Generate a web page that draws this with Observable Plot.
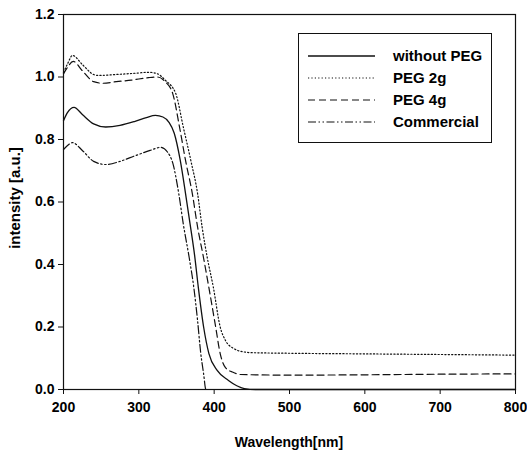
<!DOCTYPE html>
<html>
<head>
<meta charset="utf-8">
<script src="https://cdn.jsdelivr.net/npm/d3@7"></script>
<script src="https://cdn.jsdelivr.net/npm/@observablehq/plot@0.6"></script>
<style>
  html, body { margin: 0; padding: 0; background: #fff; }
  #chart { width: 527px; height: 455px; }
</style>
</head>
<body>
<div id="chart"></div>
<script>
// ---- data ----
const seriesNames = ["without PEG", "PEG 2g", "PEG 4g", "Commercial"];

const wlWithout = [200, 205, 214, 225, 240, 256, 275, 295, 310, 322, 332, 340, 347, 355, 362, 368, 374, 379, 386, 393, 404, 419, 430, 440, 455, 500, 600, 700, 800];
const valWithout = [0.86, 0.885, 0.903, 0.88, 0.85, 0.84, 0.845, 0.858, 0.87, 0.877, 0.872, 0.855, 0.82, 0.733, 0.627, 0.53, 0.43, 0.326, 0.2, 0.115, 0.061, 0.029, 0.012, 0.003, 0, 0, 0, 0, 0];

const wl2g = [200, 205, 212, 225, 240, 246, 270, 295, 313, 325, 335, 349, 359, 369, 378, 384, 391, 399, 408, 415, 426, 440, 448, 500, 600, 700, 800];
const val2g = [1.015, 1.04, 1.069, 1.04, 1.008, 1.005, 1.008, 1.012, 1.015, 1.01, 0.99, 0.947, 0.84, 0.733, 0.627, 0.52, 0.42, 0.326, 0.2, 0.157, 0.131, 0.12, 0.118, 0.116, 0.114, 0.112, 0.11];

const wl4g = [200, 205, 213, 225, 240, 252, 270, 290, 313, 325, 335, 345, 354, 362, 371, 378, 386, 393, 402, 408, 415, 425, 435, 500, 600, 700, 800];
const val4g = [1.01, 1.03, 1.05, 1.02, 0.985, 0.98, 0.985, 0.99, 0.998, 1.0, 0.985, 0.947, 0.84, 0.733, 0.627, 0.52, 0.42, 0.326, 0.2, 0.115, 0.07, 0.055, 0.048, 0.046, 0.047, 0.049, 0.05];

const wlComm = [200, 205, 212, 225, 240, 256, 275, 295, 315, 329, 338, 345, 353, 359, 367, 373, 378, 382, 386, 389, 400, 500, 600, 700, 800];
const valComm = [0.768, 0.78, 0.79, 0.765, 0.73, 0.72, 0.73, 0.748, 0.765, 0.775, 0.76, 0.725, 0.627, 0.53, 0.42, 0.326, 0.22, 0.12, 0.05, 0, 0, 0, 0, 0, 0];

const xTicks = [200, 300, 400, 500, 600, 700, 800];
const yTicks = [0.0, 0.2, 0.4, 0.6, 0.8, 1.0, 1.2];

const dashes = ["none", "1.2,2.2", "7,4", "8,2.5,1.5,2.5,1.5,2.5"];

function rows(name, wl, val) {
  return wl.map((w, i) => ({series: name, wl: w, v: val[i]}));
}
const data = [
  rows(seriesNames[0], wlWithout, valWithout),
  rows(seriesNames[1], wl2g, val2g),
  rows(seriesNames[2], wl4g, val4g),
  rows(seriesNames[3], wlComm, valComm)
];

const font = "Arial, 'Liberation Sans', sans-serif";

const plot = Plot.plot({
  width: 527,
  height: 455,
  marginLeft: 63,
  marginRight: 12,
  marginTop: 14,
  marginBottom: 66,
  style: {fontFamily: font, background: "#fff", color: "#000", fontWeight: "bold"},
  x: {domain: [200, 800], label: null},
  y: {domain: [0, 1.2], label: null},
  marks: [
    ...data.map((d, i) => Plot.line(d, {
      x: "wl", y: "v", curve: "monotone-x",
      stroke: "#111", strokeWidth: i === 0 ? 1.3 : 1.2,
      strokeDasharray: dashes[i] === "none" ? null : dashes[i]
    })),
    Plot.frame({stroke: "#111", strokeWidth: 1.2}),
    Plot.axisX({ticks: xTicks, tickSize: 5, tickPadding: 8, tickFormat: d3.format("d"),
      fontSize: 14, fontWeight: "bold", label: null, stroke: "#111"}),
    Plot.axisY({ticks: yTicks, tickSize: 5, tickPadding: 4, tickFormat: d3.format(".1f"),
      fontSize: 14, fontWeight: "bold", label: null, stroke: "#111"})
  ]
});

document.getElementById("chart").appendChild(plot);

// axis titles and legend
const svg = d3.select(plot);
svg.selectAll("text").attr("font-weight", "bold").style("font-weight", "bold");

svg.append("text")
  .attr("x", 289).attr("y", 447)
  .attr("text-anchor", "middle")
  .attr("font-family", font).attr("font-size", 14).attr("font-weight", "bold")
  .text("Wavelength[nm]");

svg.append("text")
  .attr("transform", "translate(20,198) rotate(-90)")
  .attr("text-anchor", "middle")
  .attr("font-family", font).attr("font-size", 15).attr("font-weight", "bold")
  .text("intensity [a.u.]");

const lg = svg.append("g");
lg.append("rect")
  .attr("x", 298.5).attr("y", 33.5).attr("width", 193).attr("height", 109)
  .attr("fill", "#fff").attr("stroke", "#111").attr("stroke-width", 1);
const rowY = [56, 78, 100, 122];
seriesNames.forEach((name, i) => {
  lg.append("line")
    .attr("x1", 308).attr("x2", 375).attr("y1", rowY[i]).attr("y2", rowY[i])
    .attr("stroke", "#111").attr("stroke-width", i === 0 ? 1.3 : 1.2)
    .attr("stroke-dasharray", dashes[i] === "none" ? null : dashes[i]);
  lg.append("text")
    .attr("x", 393).attr("y", rowY[i]).attr("dy", "0.35em")
    .attr("text-anchor", "start")
    .attr("font-family", font).attr("font-size", 15)
    .attr("font-weight", "bold")
    .text(name);
});
</script>
</body>
</html>
